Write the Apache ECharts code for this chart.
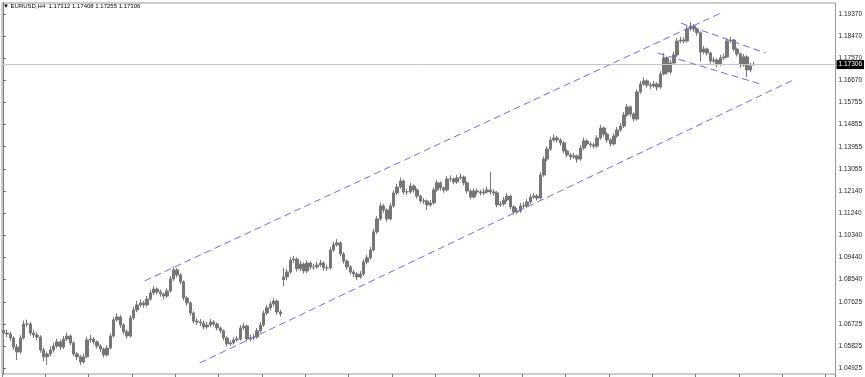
<!DOCTYPE html>
<html><head><meta charset="utf-8">
<script src="https://cdn.jsdelivr.net/npm/echarts@6/dist/echarts.min.js"></script>
<style>html,body{margin:0;padding:0;background:#fff}#c{width:865px;height:377px}</style>
</head><body><div id="c"></div>
<script>
const symbolName = 'EURUSD,H4';
const slotCount = 250;
const opens = [
1.0645,1.0635,1.0631,1.0615,1.0578,1.0558,1.0615,1.0672,1.0672,1.0635,
1.0627,1.0619,1.0566,1.0538,1.0550,1.0566,1.0582,1.0599,1.0578,1.0611,
1.0623,1.0595,1.0550,1.0538,1.0517,1.0538,1.0607,1.0611,1.0599,1.0582,
1.0570,1.0546,1.0574,1.0623,1.0689,1.0701,1.0668,1.0640,1.0623,1.0697,
1.0729,1.0750,1.0758,1.0750,1.0774,1.0799,1.0815,1.0803,1.0795,1.0786,
1.0807,1.0856,1.0893,1.0872,1.0844,1.0778,1.0758,1.0717,1.0684,1.0680,
1.0676,1.0660,1.0668,1.0680,1.0672,1.0656,1.0644,1.0615,1.0591,1.0595,
1.0607,1.0611,1.0656,1.0664,1.0611,1.0615,1.0619,1.0644,1.0668,1.0717,
1.0738,1.0754,1.0766,1.0721,1.0853,1.0864,1.0884,1.0933,1.0937,1.0897,
1.0917,1.0888,1.0921,1.0905,1.0905,1.0913,1.0921,1.0901,1.0901,1.0974,
1.0995,1.1003,1.0958,1.0929,1.0905,1.0884,1.0876,1.0864,1.0876,1.0925,
1.0942,1.0974,1.1048,1.1101,1.1154,1.1137,1.1101,1.1154,1.1207,1.1231,
1.1256,1.1211,1.1211,1.1235,1.1219,1.1194,1.1174,1.1174,1.1158,1.1166,
1.1219,1.1248,1.1227,1.1219,1.1264,1.1264,1.1252,1.1268,1.1272,1.1248,
1.1215,1.1190,1.1215,1.1211,1.1207,1.1211,1.1219,1.1211,1.1207,1.1158,
1.1162,1.1178,1.1194,1.1150,1.1129,1.1133,1.1154,1.1154,1.1170,1.1190,
1.1194,1.1186,1.1280,1.1345,1.1386,1.1423,1.1431,1.1423,1.1411,1.1378,
1.1362,1.1354,1.1358,1.1345,1.1390,1.1419,1.1407,1.1403,1.1398,1.1431,
1.1472,1.1447,1.1423,1.1407,1.1439,1.1464,1.1480,1.1525,1.1558,1.1529,
1.1509,1.1619,1.1651,1.1664,1.1647,1.1643,1.1651,1.1639,1.1692,1.1758,
1.1700,1.1737,1.1770,1.1827,1.1831,1.1827,1.1876,1.1888,1.1876,1.1860,
1.1782,1.1794,1.1778,1.1745,1.1749,1.1733,1.1758,1.1762,1.1827,1.1831,
1.1794,1.1774,1.1729,1.1762,1.1709,1.17312];
const closes = [
1.0635,1.0631,1.0615,1.0578,1.0558,1.0615,1.0672,1.0672,1.0635,1.0627,
1.0619,1.0566,1.0538,1.0550,1.0566,1.0582,1.0599,1.0578,1.0611,1.0623,
1.0595,1.0550,1.0538,1.0517,1.0538,1.0607,1.0611,1.0599,1.0582,1.0570,
1.0546,1.0574,1.0623,1.0689,1.0701,1.0668,1.0640,1.0623,1.0697,1.0729,
1.0750,1.0758,1.0750,1.0774,1.0799,1.0815,1.0803,1.0795,1.0786,1.0807,
1.0856,1.0893,1.0872,1.0844,1.0778,1.0758,1.0717,1.0684,1.0680,1.0676,
1.0660,1.0668,1.0680,1.0672,1.0656,1.0644,1.0615,1.0591,1.0595,1.0607,
1.0611,1.0656,1.0664,1.0611,1.0615,1.0619,1.0644,1.0668,1.0717,1.0738,
1.0754,1.0766,1.0721,1.0713,1.0864,1.0884,1.0933,1.0937,1.0897,1.0917,
1.0888,1.0921,1.0905,1.0905,1.0913,1.0921,1.0901,1.0901,1.0974,1.0995,
1.1003,1.0958,1.0929,1.0905,1.0884,1.0876,1.0864,1.0876,1.0925,1.0942,
1.0974,1.1048,1.1101,1.1154,1.1137,1.1101,1.1154,1.1207,1.1231,1.1256,
1.1211,1.1211,1.1235,1.1219,1.1194,1.1174,1.1174,1.1158,1.1166,1.1219,
1.1248,1.1227,1.1219,1.1264,1.1264,1.1252,1.1268,1.1272,1.1248,1.1215,
1.1190,1.1215,1.1211,1.1207,1.1211,1.1219,1.1211,1.1207,1.1158,1.1162,
1.1178,1.1194,1.1150,1.1129,1.1133,1.1154,1.1154,1.1170,1.1190,1.1194,
1.1186,1.1280,1.1345,1.1386,1.1423,1.1431,1.1423,1.1411,1.1378,1.1362,
1.1354,1.1358,1.1345,1.1390,1.1419,1.1407,1.1403,1.1398,1.1431,1.1472,
1.1447,1.1423,1.1407,1.1439,1.1464,1.1480,1.1525,1.1558,1.1529,1.1509,
1.1619,1.1651,1.1664,1.1647,1.1643,1.1651,1.1639,1.1692,1.1758,1.1700,
1.1737,1.1770,1.1827,1.1831,1.1827,1.1876,1.1888,1.1876,1.1860,1.1782,
1.1794,1.1778,1.1745,1.1749,1.1733,1.1758,1.1762,1.1827,1.1831,1.1794,
1.1774,1.1729,1.1762,1.1709,1.1725,1.17306];
const highs = [
1.0662,1.0650,1.0640,1.0622,1.0590,1.0626,1.0686,1.0690,1.0680,1.0648,
1.0640,1.0626,1.0575,1.0560,1.0580,1.0595,1.0612,1.0608,1.0623,1.0636,
1.0630,1.0602,1.0558,1.0545,1.0552,1.0620,1.0628,1.0618,1.0606,1.0590,
1.0576,1.0585,1.0634,1.0700,1.0716,1.0708,1.0675,1.0650,1.0708,1.0742,
1.0766,1.0772,1.0766,1.0786,1.0812,1.0828,1.0822,1.0812,1.0800,1.0818,
1.0868,1.0906,1.0900,1.0880,1.0850,1.0786,1.0765,1.0724,1.0696,1.0692,
1.0686,1.0680,1.0694,1.0688,1.0678,1.0662,1.0650,1.0622,1.0606,1.0618,
1.0624,1.0668,1.0676,1.0670,1.0628,1.0632,1.0656,1.0680,1.0728,1.0750,
1.0766,1.0778,1.0772,1.0730,1.0901,1.0896,1.0945,1.0950,1.0944,1.0930,
1.0924,1.0932,1.0928,1.0918,1.0926,1.0934,1.0928,1.0914,1.0986,1.1008,
1.1018,1.1010,1.0966,1.0936,1.0912,1.0892,1.0884,1.0888,1.0936,1.0954,
1.0986,1.1060,1.1112,1.1166,1.1162,1.1144,1.1166,1.1218,1.1244,1.1270,
1.1262,1.1224,1.1248,1.1242,1.1226,1.1200,1.1186,1.1180,1.1178,1.1230,
1.1260,1.1254,1.1234,1.1276,1.1278,1.1270,1.1280,1.1286,1.1278,1.1254,
1.1222,1.1226,1.1226,1.1220,1.1224,1.1232,1.1292,1.1222,1.1214,1.1174,
1.1190,1.1206,1.1200,1.1156,1.1146,1.1166,1.1168,1.1182,1.1202,1.1206,
1.1202,1.1292,1.1356,1.1398,1.1436,1.1446,1.1440,1.1430,1.1418,1.1386,
1.1370,1.1370,1.1364,1.1402,1.1432,1.1426,1.1416,1.1412,1.1442,1.1484,
1.1478,1.1454,1.1430,1.1450,1.1476,1.1492,1.1536,1.1570,1.1564,1.1536,
1.1630,1.1664,1.1678,1.1670,1.1658,1.1664,1.1658,1.1704,1.1778,1.1764,
1.1750,1.1782,1.1838,1.1844,1.1842,1.1888,1.1904,1.1896,1.1882,1.1866,
1.1806,1.1800,1.1784,1.1762,1.1756,1.1770,1.1776,1.1838,1.1844,1.1836,
1.1800,1.1780,1.1774,1.1768,1.1738,1.17408];
const lows = [
1.0622,1.0618,1.0602,1.0566,1.0525,1.0550,1.0608,1.0660,1.0625,1.0615,
1.0606,1.0555,1.0520,1.0505,1.0540,1.0556,1.0574,1.0566,1.0570,1.0602,
1.0585,1.0540,1.0525,1.0505,1.0510,1.0532,1.0596,1.0588,1.0572,1.0558,
1.0535,1.0540,1.0568,1.0616,1.0682,1.0656,1.0630,1.0612,1.0616,1.0688,
1.0720,1.0740,1.0738,1.0742,1.0766,1.0790,1.0792,1.0784,1.0772,1.0778,
1.0800,1.0848,1.0862,1.0834,1.0768,1.0746,1.0706,1.0674,1.0668,1.0664,
1.0650,1.0652,1.0660,1.0662,1.0646,1.0634,1.0605,1.0580,1.0582,1.0588,
1.0600,1.0604,1.0648,1.0600,1.0602,1.0606,1.0612,1.0636,1.0660,1.0708,
1.0728,1.0744,1.0710,1.0702,1.0826,1.0850,1.0876,1.0922,1.0886,1.0888,
1.0878,1.0880,1.0894,1.0892,1.0898,1.0906,1.0890,1.0888,1.0894,1.0966,
1.0988,1.0948,1.0918,1.0894,1.0874,1.0864,1.0852,1.0856,1.0868,1.0916,
1.0934,1.0968,1.1040,1.1094,1.1126,1.1090,1.1094,1.1146,1.1198,1.1224,
1.1200,1.1198,1.1204,1.1208,1.1184,1.1164,1.1162,1.1137,1.1150,1.1160,
1.1212,1.1216,1.1208,1.1212,1.1252,1.1242,1.1244,1.1260,1.1238,1.1204,
1.1180,1.1184,1.1200,1.1196,1.1198,1.1204,1.1200,1.1196,1.1148,1.1150,
1.1154,1.1170,1.1140,1.1118,1.1120,1.1126,1.1142,1.1146,1.1162,1.1182,
1.1176,1.1180,1.1272,1.1336,1.1378,1.1416,1.1412,1.1400,1.1368,1.1352,
1.1342,1.1346,1.1330,1.1338,1.1382,1.1396,1.1392,1.1388,1.1390,1.1424,
1.1436,1.1412,1.1396,1.1400,1.1432,1.1456,1.1472,1.1518,1.1518,1.1498,
1.1502,1.1612,1.1644,1.1636,1.1632,1.1636,1.1624,1.1632,1.1686,1.1690,
1.1692,1.1730,1.1762,1.1818,1.1816,1.1820,1.1868,1.1864,1.1848,1.1742,
1.1774,1.1768,1.1734,1.1736,1.1720,1.1726,1.1750,1.1756,1.1818,1.1784,
1.1764,1.1718,1.1722,1.1680,1.1700,1.17255];
const priceTicks = [1.04925,1.05825,1.06725,1.07625,1.08540,1.09440,1.10340,1.11240,1.12140,
  1.13055,1.13955,1.14855,1.15755,1.16670,1.17570,1.18470,1.19370];
const priceMin = 1.04680, priceMax = 1.19819;
// trend lines: [bar index, price]
const channelUpper = [[42.3, 1.0848], [215.1, 1.1941]];
const channelLower = [[58.8, 1.0513], [237.5, 1.1672]];
const flagUpper = [[203.1, 1.1900], [228.5, 1.1778]];
const flagLower = [[196.2, 1.1778], [227.0, 1.1651]];

const categories = Array.from({length: slotCount}, (_, i) => String(i));
const candleData = closes.map((c, i) => [opens[i], c, lows[i], highs[i]]);
const n = closes.length - 1;
const lastClose = closes[n];
const titleText = '\u25BC ' + symbolName + '  ' + [opens[n], highs[n], lows[n], closes[n]].map(v => v.toFixed(5)).join(' ');

const trendStyle = {color: '#6c6cec', width: 1, type: [7, 4]};
function trend(data) {
  return {type: 'line', xAxisIndex: 1, yAxisIndex: 0, data: data, symbol: 'none', silent: true,
    lineStyle: trendStyle, z: 5, animation: false};
}

const chart = echarts.init(document.getElementById('c'), null, {renderer: 'canvas'});
chart.setOption({
  animation: false,
  backgroundColor: '#ffffff',
  title: {text: titleText, left: 3, top: 3, padding: 0,
    textStyle: {fontSize: 6, fontWeight: 'normal', color: '#000',
      fontFamily: '"Liberation Sans", sans-serif'}},
  grid: {left: 2, right: 28, top: 3, bottom: 3, show: true, borderColor: '#999', borderWidth: 1},
  xAxis: [
    {type: 'category', data: categories, boundaryGap: true,
      axisLine: {show: false}, axisLabel: {show: false}, splitLine: {show: false},
      axisTick: {show: true, interval: 12, length: 3, lineStyle: {color: '#777'}}},
    {type: 'value', min: -0.5, max: slotCount - 0.5, show: false}
  ],
  yAxis: {type: 'value', position: 'right', min: priceMin, max: priceMax, scale: true,
    splitLine: {show: false},
    axisLine: {show: true, lineStyle: {color: '#777'}},
    axisTick: {show: true, length: 2, customValues: priceTicks, lineStyle: {color: '#555'}},
    axisLabel: {customValues: priceTicks, margin: 3, fontSize: 6.5, color: '#222',
      fontFamily: '"Liberation Sans", sans-serif', formatter: v => v.toFixed(5)}},
  series: [
    {type: 'candlestick', xAxisIndex: 0, yAxisIndex: 0, data: candleData, barWidth: 3,
      itemStyle: {color: '#767676', color0: '#767676', borderColor: '#767676', borderColor0: '#767676', borderWidth: 1},
      markLine: {silent: true, symbol: 'none', animation: false, precision: 5,
        lineStyle: {color: '#c6c6c6', type: 'solid', width: 1},
        label: {show: true, position: 'end', distance: 1, formatter: () => lastClose.toFixed(5),
          backgroundColor: '#000', color: '#fff', fontSize: 6.5, padding: [1, 2, 1, 2],
          fontFamily: '"Liberation Sans", sans-serif'},
        data: [{yAxis: lastClose}]}},
    trend(channelUpper), trend(channelLower), trend(flagUpper), trend(flagLower)
  ]
});
</script></body></html>
